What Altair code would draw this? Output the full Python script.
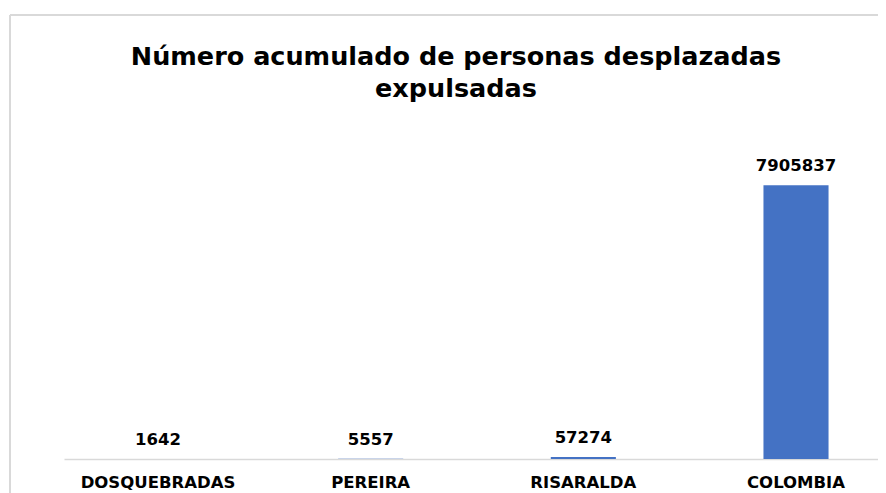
import altair as alt
import pandas as pd

categories = ["DOSQUEBRADAS", "PEREIRA", "RISARALDA", "COLOMBIA"]
values = [1642, 5557, 57274, 7905837]
title_lines = ["Número acumulado de personas desplazadas", "expulsadas"]

df = pd.DataFrame({"cat": categories, "val": values})

x = alt.X("cat:N", sort=categories, title=None,
          scale=alt.Scale(paddingInner=0.694, paddingOuter=0.289, range=[0, 826]),
          axis=alt.Axis(labelAngle=0, ticks=False, domainColor="#d9d9d9", domainWidth=1.5,
                        labelFont="DejaVu Sans", labelFontWeight="bold", labelFontSize=16.5,
                        labelColor="#000000", labelPadding=15, labelBaseline="top", grid=False))
y = alt.Y("val:Q", title=None, scale=alt.Scale(domain=[0, 9500000]), axis=None)

base = alt.Chart(df)
bars = base.mark_bar(color="#4472C4").encode(x=x, y=y)
labels = base.mark_text(font="DejaVu Sans", fontWeight="bold", fontSize=16.5,
                        color="#000000", baseline="alphabetic", dy=-14).encode(
    x=x, y=y, text=alt.Text("val:Q", format="d"))

border_v = alt.Chart(df).mark_rule(color="#d9d9d9", strokeWidth=2).encode(
    x=alt.value(-54), y=alt.value(-115), y2=alt.value(400))
border_h = alt.Chart(df).mark_rule(color="#d9d9d9", strokeWidth=2).encode(
    x=alt.value(-54), x2=alt.value(830), y=alt.value(-115))

title_style = dict(font="DejaVu Sans", fontSize=25.5, fontWeight="bold",
                   color="#000000", baseline="alphabetic", align="center")
t1 = alt.Chart(df).transform_filter("datum.cat == 'COLOMBIA'").mark_text(**title_style).encode(
    x=alt.value(392), y=alt.value(-65), text=alt.value(title_lines[0]))
t2 = alt.Chart(df).transform_filter("datum.cat == 'COLOMBIA'").mark_text(**title_style).encode(
    x=alt.value(392), y=alt.value(-33), text=alt.value(title_lines[1]))

chart = alt.layer(border_v, border_h, bars, labels, t1, t2).properties(
    width=812, height=329,
    background="#ffffff",
    autosize=alt.AutoSizeParams(type="none"),
    padding={"left": 56, "top": 122, "right": 2, "bottom": 36},
).configure_view(strokeWidth=0, stroke="transparent")

chart.save("out.html", embed_options={"renderer": "svg", "actions": False})
